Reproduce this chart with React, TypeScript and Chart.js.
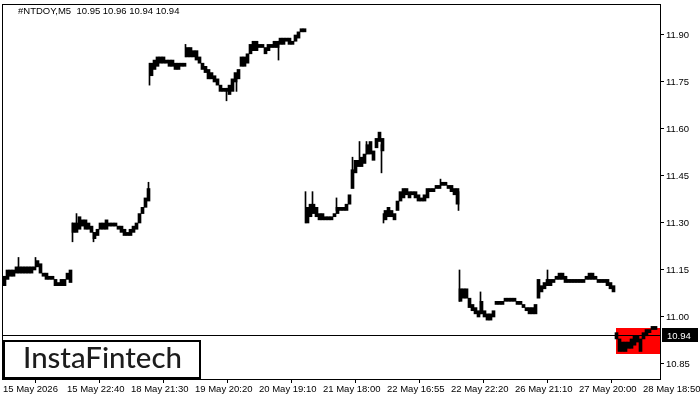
import { useEffect, useRef } from "react";
import { Chart, registerables } from "chart.js";

Chart.register(...registerables);

const symbolTitle = "#NTDOY,M5  10.95 10.96 10.94 10.94";
const xTickLabels = [
  "15 May 2026", "15 May 22:40", "18 May 21:30", "19 May 20:20", "20 May 19:10",
  "21 May 18:00", "22 May 16:55", "22 May 22:20", "26 May 21:10", "27 May 20:00", "28 May 18:50",
];
const barsPerXTick = 64;
const yTicks = [10.85, 11.0, 11.15, 11.3, 11.45, 11.6, 11.75, 11.9];
const yMin = 10.8021;
const yMax = 11.9989;
const barsPerSample = 3;

// Low / high of each group of three M5 bars, one pair of arrays per session
const may15Lo = [11.10, 11.12, 11.13, 11.13, 11.14, 11.14, 11.14, 11.14, 11.14, 11.14, 11.15, 11.16, 11.14, 11.13, 11.12, 11.12, 11.12, 11.10, 11.10, 11.10, 11.10, 11.12, 11.11];
const may15Hi = [11.13, 11.15, 11.15, 11.15, 11.16, 11.16, 11.16, 11.16, 11.16, 11.16, 11.16, 11.18, 11.17, 11.14, 11.14, 11.13, 11.13, 11.12, 11.11, 11.12, 11.12, 11.14, 11.15];
const may18Lo = [11.27, 11.27, 11.28, 11.29, 11.28, 11.28, 11.27, 11.25, 11.26, 11.28, 11.28, 11.28, 11.29, 11.29, 11.29, 11.28, 11.27, 11.26, 11.26, 11.26, 11.27, 11.28, 11.30, 11.33, 11.35, 11.37];
const may18Hi = [11.30, 11.30, 11.32, 11.31, 11.31, 11.30, 11.29, 11.27, 11.28, 11.30, 11.30, 11.31, 11.30, 11.30, 11.30, 11.29, 11.29, 11.28, 11.27, 11.28, 11.29, 11.30, 11.33, 11.35, 11.38, 11.41];
const may19Lo = [11.77, 11.79, 11.80, 11.81, 11.81, 11.81, 11.80, 11.80, 11.79, 11.79, 11.80, 11.80, 11.83, 11.83, 11.83, 11.82, 11.81, 11.79, 11.78, 11.76, 11.76, 11.75, 11.74, 11.72, 11.72, 11.72];
const may19Hi = [11.81, 11.82, 11.83, 11.83, 11.83, 11.82, 11.82, 11.82, 11.81, 11.81, 11.81, 11.81, 11.86, 11.86, 11.85, 11.85, 11.83, 11.81, 11.80, 11.79, 11.78, 11.77, 11.76, 11.74, 11.73, 11.73];
const may20Lo = [11.71, 11.72, 11.75, 11.76, 11.80, 11.80, 11.81, 11.84, 11.85, 11.85, 11.86, 11.86, 11.84, 11.85, 11.86, 11.86, 11.86, 11.87, 11.87, 11.88, 11.87, 11.87, 11.88, 11.89, 11.91, 11.91];
const may20Hi = [11.74, 11.76, 11.78, 11.79, 11.83, 11.83, 11.84, 11.87, 11.88, 11.88, 11.87, 11.87, 11.86, 11.87, 11.87, 11.88, 11.88, 11.89, 11.89, 11.89, 11.89, 11.88, 11.90, 11.91, 11.92, 11.92];
const may21Lo = [11.30, 11.32, 11.33, 11.32, 11.31, 11.31, 11.31, 11.31, 11.31, 11.32, 11.33, 11.34, 11.34, 11.34, 11.36, 11.41, 11.46, 11.48, 11.48, 11.49, 11.52, 11.52, 11.50, 11.54, 11.56, 11.53];
const may21Hi = [11.35, 11.36, 11.36, 11.35, 11.33, 11.33, 11.32, 11.32, 11.32, 11.33, 11.35, 11.35, 11.35, 11.36, 11.39, 11.47, 11.50, 11.50, 11.51, 11.52, 11.55, 11.56, 11.53, 11.57, 11.59, 11.57];
const may22Lo = [11.31, 11.32, 11.32, 11.31, 11.34, 11.37, 11.38, 11.39, 11.38, 11.39, 11.38, 11.37, 11.37, 11.37, 11.38, 11.40, 11.40, 11.41, 11.41, 11.42, 11.42, 11.41, 11.40, 11.39, 11.36];
const may22Hi = [11.34, 11.35, 11.34, 11.33, 11.37, 11.40, 11.41, 11.41, 11.40, 11.40, 11.40, 11.39, 11.38, 11.39, 11.41, 11.41, 11.41, 11.42, 11.42, 11.43, 11.43, 11.42, 11.42, 11.41, 11.41];
const may26Lo = [11.05, 11.06, 11.06, 11.03, 11.02, 11.01, 11.00, 11.01, 11.00, 10.99, 10.99, 11.00, 11.04, 11.04, 11.04, 11.05, 11.05, 11.05, 11.05, 11.04, 11.04, 11.03, 11.02, 11.01, 11.01, 11.01];
const may26Hi = [11.09, 11.09, 11.09, 11.06, 11.04, 11.03, 11.02, 11.05, 11.02, 11.01, 11.01, 11.02, 11.05, 11.05, 11.05, 11.06, 11.06, 11.06, 11.06, 11.05, 11.05, 11.04, 11.03, 11.03, 11.03, 11.04];
const may27Lo = [11.06, 11.08, 11.09, 11.10, 11.10, 11.11, 11.12, 11.12, 11.12, 11.11, 11.11, 11.11, 11.11, 11.11, 11.11, 11.11, 11.12, 11.12, 11.12, 11.12, 11.11, 11.11, 11.11, 11.10, 11.09, 11.08];
const may27Hi = [11.12, 11.10, 11.11, 11.12, 11.12, 11.12, 11.13, 11.14, 11.14, 11.13, 11.12, 11.12, 11.12, 11.12, 11.12, 11.12, 11.13, 11.14, 11.14, 11.13, 11.12, 11.12, 11.12, 11.12, 11.11, 11.10];
const may28Lo = [10.93, 10.89, 10.89, 10.89, 10.90, 10.90, 10.91, 10.92, 10.89, 10.93, 10.94, 10.95, 10.96, 10.96];
const may28Hi = [10.95, 10.93, 10.92, 10.92, 10.92, 10.93, 10.94, 10.94, 10.93, 10.95, 10.96, 10.96, 10.97, 10.97];

// Single-bar wicks that stick out of the groups
const spikeBars = [15, 32, 69, 73, 90, 145, 146, 182, 223, 233, 275, 302, 309, 333, 349, 356, 363, 378, 380, 437, 455, 456, 477, 544];
const spikeLows = [11.16, 11.16, 11.24, 11.30, 11.24, 11.38, 11.74, 11.83, 11.69, 11.72, 11.82, 11.30, 11.34, 11.34, 11.46, 11.49, 11.52, 11.46, 11.30, 11.42, 11.34, 11.05, 11.01, 11.10];
const spikeHighs = [11.19, 11.19, 11.30, 11.33, 11.27, 11.43, 11.81, 11.87, 11.73, 11.77, 11.88, 11.40, 11.40, 11.38, 11.51, 11.56, 11.56, 11.55, 11.33, 11.44, 11.40, 11.15, 11.08, 11.15];

const lastPrice = 10.94;
const patternStartBar = 613;
const patternLow = 10.883;
const patternHigh = 10.966;

const FONT = "'Liberation Sans', Arial, sans-serif";

export default function App() {
  const canvasRef = useRef<HTMLCanvasElement | null>(null);

  useEffect(() => {
    document.body.style.margin = "0";
    const canvas = canvasRef.current;
    if (!canvas) return;

    const lows = [...may15Lo, ...may18Lo, ...may19Lo, ...may20Lo, ...may21Lo, ...may22Lo, ...may26Lo, ...may27Lo, ...may28Lo];
    const highs = [...may15Hi, ...may18Hi, ...may19Hi, ...may20Hi, ...may21Hi, ...may22Hi, ...may26Hi, ...may27Hi, ...may28Hi];
    const groups = lows.map((lo, k) => ({ x: k * barsPerSample + barsPerSample / 2, y: [lo, highs[k]] }));
    const spikes = spikeBars.map((b, j) => ({ x: b + 0.5, y: [spikeLows[j], spikeHighs[j]] }));
    const totalBars = lows.length * barsPerSample;

    const overlay = {
      id: "mtOverlay",
      beforeDatasetsDraw(chart: any) {
        const { ctx, chartArea, scales } = chart;
        const x1 = scales.x.getPixelForValue(patternStartBar);
        const yTop = scales.y.getPixelForValue(patternHigh);
        const yBot = scales.y.getPixelForValue(patternLow);
        ctx.save();
        ctx.fillStyle = "#ff0000";
        ctx.fillRect(Math.round(x1), Math.round(yTop), Math.round(chartArea.right - x1), Math.round(yBot - yTop));
        ctx.restore();
      },
      afterDatasetsDraw(chart: any) {
        const { ctx, chartArea, scales } = chart;
        const y = Math.floor(scales.y.getPixelForValue(lastPrice)) + 0.5;
        ctx.save();
        ctx.strokeStyle = "#000";
        ctx.lineWidth = 1;
        ctx.beginPath();
        ctx.moveTo(chartArea.left, y);
        ctx.lineTo(chartArea.right, y);
        ctx.stroke();
        ctx.restore();
      },
      afterDraw(chart: any) {
        const { ctx, chartArea, scales } = chart;
        ctx.save();
        // frame
        ctx.strokeStyle = "#000";
        ctx.lineWidth = 1;
        ctx.strokeRect(chartArea.left + 0.5, chartArea.top + 0.5, chartArea.right - chartArea.left, chartArea.bottom - chartArea.top);
        // title
        ctx.fillStyle = "#000";
        ctx.font = `9.5px ${FONT}`;
        ctx.textBaseline = "middle";
        ctx.textAlign = "left";
        ctx.fillText(symbolTitle, chartArea.left + 16, chartArea.top + 7);
        // last price label
        const py = Math.floor(scales.y.getPixelForValue(lastPrice)) + 0.5;
        ctx.fillStyle = "#000";
        ctx.fillRect(chartArea.right + 2, Math.round(py - 7.5), 36, 14);
        ctx.fillStyle = "#fff";
        ctx.fillText(lastPrice.toFixed(2), chartArea.right + 7, py + 0.5);
        // logo
        const bx = chartArea.left + 1;
        const bw = 198;
        const bh = 39;
        const by = chartArea.bottom - bh;
        ctx.fillStyle = "#fff";
        ctx.fillRect(bx, by, bw, bh);
        ctx.lineWidth = 2;
        ctx.strokeStyle = "#000";
        ctx.strokeRect(bx + 1, by + 1, bw - 2, bh - 2);
        const text = "InstaFintech";
        let size = 25;
        ctx.font = `500 ${size}px Lato, 'Noto Sans', sans-serif`;
        const w = ctx.measureText(text).width;
        size = size * 159 / w;
        ctx.font = `500 ${size}px Lato, 'Noto Sans', sans-serif`;
        ctx.fillStyle = "#1c1c1c";
        ctx.textBaseline = "alphabetic";
        ctx.fillText(text, bx + 20, by + 28);
        ctx.restore();
      },
    };

    const chart = new Chart(canvas, {
      type: "bar",
      data: {
        datasets: [
          { label: "wicks", data: spikes as any, backgroundColor: "#000", borderWidth: 0, barThickness: 1, grouped: false } as any,
          { label: "NTDOY", data: groups as any, backgroundColor: "#000", borderWidth: 0, barThickness: barsPerSample, grouped: false } as any,
        ],
      },
      options: {
        animation: false,
        responsive: false,
        devicePixelRatio: 1,
        layout: { padding: { left: 2, top: 4, right: 0, bottom: 0 } },
        plugins: { legend: { display: false }, tooltip: { enabled: false } },
        scales: {
          x: {
            type: "linear",
            min: -1,
            max: totalBars + 3,
            offset: false,
            grid: { drawOnChartArea: false, drawTicks: true, tickLength: 4, color: "#000" },
            border: { display: false },
            ticks: {
              autoSkip: false,
              maxRotation: 0,
              minRotation: 0,
              align: "start",
              padding: 1,
              color: "#000",
              font: { family: FONT, size: 9.5 },
              callback: (_v: any, idx: number) => xTickLabels[idx],
            },
            afterBuildTicks: (s: any) => {
              s.ticks = xTickLabels.map((_, j) => ({ value: j * barsPerXTick }));
            },
            afterFit: (s: any) => {
              s.height = 21;
              s.paddingLeft = 0;
              s.paddingRight = 0;
            },
          } as any,
          y: {
            position: "right",
            min: yMin,
            max: yMax,
            grid: { drawOnChartArea: false, drawTicks: true, tickLength: 4, color: "#000" },
            border: { display: false },
            ticks: {
              padding: 2,
              color: "#000",
              font: { family: FONT, size: 9.5 },
              callback: (v: any) => Number(v).toFixed(2),
            },
            afterBuildTicks: (s: any) => {
              s.ticks = yTicks.map((v) => ({ value: v }));
            },
            afterFit: (s: any) => {
              s.width = 40;
              s.paddingTop = 0;
              s.paddingBottom = 0;
            },
          } as any,
        },
      },
      plugins: [overlay],
    });

    return () => chart.destroy();
  }, []);

  return (
    <div style={{ width: 700, height: 400, background: "#fff" }}>
      <canvas ref={canvasRef} width={700} height={400} />
    </div>
  );
}
